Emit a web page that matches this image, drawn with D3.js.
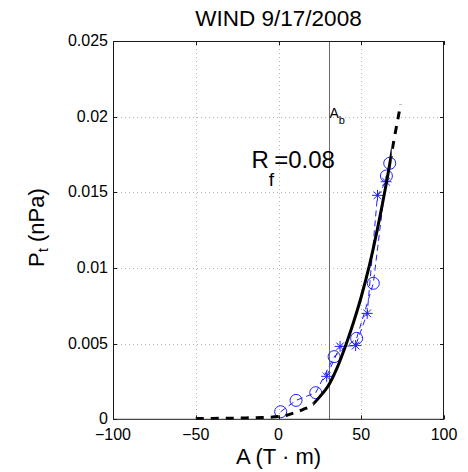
<!DOCTYPE html>
<html><head><meta charset="utf-8">
<script src="https://cdn.jsdelivr.net/npm/d3@7"></script>
<style>
body{margin:0;background:#fff}
svg{display:block}
text{font-family:"Liberation Sans",Arial,Helvetica,sans-serif;fill:#000}
</style>
</head><body>
<svg id="c" width="468" height="472"></svg>
<script>
// ---- data ----
const xTicks = [-100, -50, 0, 50, 100];
const xTickLabels = ["\u2212100", "\u221250", "0", "50", "100"];
const yTicks = [0, 0.005, 0.01, 0.015, 0.02, 0.025];
const yTickLabels = ["0", "0.005", "0.01", "0.015", "0.02", "0.025"];

// fitted model curve (black)
const fitA = [-50, -40, -30, -20, -10, 0, 5, 10, 15, 20, 25, 30, 35, 40, 45, 50, 55, 60, 65, 70, 73.8];
const fitP = [0.00005, 0.00006, 0.00007, 0.00009, 0.00012, 0.00018, 0.00027, 0.00045, 0.00066, 0.00092, 0.0015, 0.0022, 0.0033, 0.0047, 0.0063, 0.0081, 0.0102, 0.0127, 0.0155, 0.0186, 0.0208];
const solidRange = [21, 68.4];

// observed points: circles
const circA = [1.3, 10.6, 22.5, 33.6, 47.2, 57.3, 65.2, 67.2];
const circP = [0.0005, 0.00125, 0.00176, 0.00414, 0.00535, 0.00899, 0.01608, 0.01692];
// observed points: asterisks
const starA = [29.1, 37.2, 46.6, 53.6, 59.8, 65.0];
const starP = [0.00284, 0.00482, 0.00487, 0.0070, 0.0148, 0.0157];

const abLine = 30.5;
const titleText = "WIND 9/17/2008";
const rfValue = "0.08";

// ---- layout ----
const svg = d3.select("#c");
const L = 113, R = 444, T = 41, B = 419.3;
const x = d3.scaleLinear().domain([-100, 100]).range([L, R]);
const y = d3.scaleLinear().domain([0, 0.025]).range([B, T]);

svg.append("rect").attr("x", 0).attr("y", 0).attr("width", 468).attr("height", 472).attr("fill", "#fff");

// clip paths
const defs = svg.append("defs");
defs.append("clipPath").attr("id", "plot").append("rect")
  .attr("x", L).attr("y", T).attr("width", R - L).attr("height", B - T);
defs.append("clipPath").attr("id", "solid").append("rect")
  .attr("x", x(solidRange[0])).attr("y", 0).attr("width", x(solidRange[1]) - x(solidRange[0])).attr("height", 472);
const outside = defs.append("clipPath").attr("id", "dashed");
outside.append("rect").attr("x", 0).attr("y", 0).attr("width", x(solidRange[0])).attr("height", 472);
outside.append("rect").attr("x", x(solidRange[1])).attr("y", 0).attr("width", 468 - x(solidRange[1])).attr("height", 472);

// grid (dotted)
const grid = svg.append("g");
xTicks.slice(1, -1).forEach(v => {
  grid.append("line").attr("x1", Math.round(x(v)) + 0.5).attr("x2", Math.round(x(v)) + 0.5)
    .attr("y1", T).attr("y2", B).attr("stroke", "#b5b5b5").attr("stroke-width", 1).attr("stroke-dasharray", "1,3");
});
yTicks.slice(1, -1).forEach(v => {
  grid.append("line").attr("y1", Math.round(y(v)) + 0.5).attr("y2", Math.round(y(v)) + 0.5)
    .attr("x1", L).attr("x2", R).attr("stroke", "#b5b5b5").attr("stroke-width", 1).attr("stroke-dasharray", "1,3");
});

// A_b vertical line
svg.append("line").attr("x1", Math.round(x(abLine)) + 0.5).attr("x2", Math.round(x(abLine)) + 0.5)
  .attr("y1", T).attr("y2", B).attr("stroke", "#6a6a6a").attr("stroke-width", 1);

// blue observed series
const circData = circA.map((a, i) => [a, circP[i]]);
const starData = starA.map((a, i) => [a, starP[i]]);
const lineGen = d3.line().x(d => x(d[0])).y(d => y(d[1]));
const blue = "#2020ff";
const pg = svg.append("g").attr("clip-path", "url(#plot)");
pg.append("path").attr("d", lineGen(circData)).attr("fill", "none").attr("stroke", blue)
  .attr("stroke-width", 1).attr("stroke-dasharray", "6,4");
pg.append("path").attr("d", lineGen(starData)).attr("fill", "none").attr("stroke", blue)
  .attr("stroke-width", 1).attr("stroke-dasharray", "6,4");
pg.selectAll(".circ").data(circData).enter().append("circle")
  .attr("cx", d => x(d[0])).attr("cy", d => y(d[1])).attr("r", 6)
  .attr("fill", "none").attr("stroke", blue).attr("stroke-width", 1);
const s = 5.5, sd = s * 0.7;
const starPath = `M${-s},0H${s}M0,${-s}V${s}M${-sd},${-sd}L${sd},${sd}M${-sd},${sd}L${sd},${-sd}`;
pg.selectAll(".star").data(starData).enter().append("path")
  .attr("transform", d => `translate(${x(d[0])},${y(d[1])})`)
  .attr("d", starPath).attr("fill", "none").attr("stroke", blue).attr("stroke-width", 1);

// black fit curve
const fitData = fitA.map((a, i) => [a, fitP[i]]);
const curveGen = d3.line().x(d => x(d[0])).y(d => y(d[1])).curve(d3.curveMonotoneX);
svg.append("path").attr("d", curveGen(fitData)).attr("clip-path", "url(#dashed)")
  .attr("fill", "none").attr("stroke", "#000").attr("stroke-width", 3).attr("stroke-dasharray", "8,7");
svg.append("path").attr("d", curveGen(fitData)).attr("clip-path", "url(#solid)")
  .attr("fill", "none").attr("stroke", "#000").attr("stroke-width", 3);

// axes box
svg.append("rect").attr("x", L + 0.5).attr("y", T + 0.5).attr("width", R - L - 1).attr("height", B - T - 0.5)
  .attr("fill", "none").attr("stroke", "#1a1a1a").attr("stroke-width", 1);

// ticks inward (all four sides)
const tl = 4;
const tg = svg.append("g").attr("stroke", "#1a1a1a").attr("stroke-width", 1);
xTicks.forEach(v => {
  const px = Math.round(x(v)) + 0.5;
  tg.append("line").attr("x1", px).attr("x2", px).attr("y1", B).attr("y2", B - tl);
  tg.append("line").attr("x1", px).attr("x2", px).attr("y1", T).attr("y2", T + tl);
});
yTicks.forEach(v => {
  const py = Math.round(y(v)) + 0.5;
  tg.append("line").attr("y1", py).attr("y2", py).attr("x1", L).attr("x2", L + tl);
  tg.append("line").attr("y1", py).attr("y2", py).attr("x1", R).attr("x2", R - tl);
});

// tick labels
xTicks.forEach((v, i) => {
  svg.append("text").attr("x", x(v)).attr("y", 440).attr("text-anchor", "middle")
    .attr("font-size", 16).text(xTickLabels[i]);
});
yTicks.forEach((v, i) => {
  svg.append("text").attr("x", 108).attr("y", y(v) + 5).attr("text-anchor", "end")
    .attr("font-size", 16).text(yTickLabels[i]);
});

// title
svg.append("text").attr("x", (L + R) / 2).attr("y", 26).attr("text-anchor", "middle")
  .attr("font-size", 22.5).text(titleText);

// x label
svg.append("text").attr("x", (L + R) / 2).attr("y", 463.5).attr("text-anchor", "middle")
  .attr("font-size", 22).text("A (T \u00B7 m)");

// y label
const yl = svg.append("text").attr("transform", "translate(44.3,267) rotate(-90)")
  .attr("text-anchor", "start").attr("font-size", 22);
yl.append("tspan").text("P");
yl.append("tspan").attr("font-size", 15).attr("dy", 4).text("t");
yl.append("tspan").attr("dy", -4).text(" (nPa)");

// A_b label
const ab = svg.append("text").attr("x", x(abLine) + 0.5).attr("y", 118.3).attr("font-size", 14);
ab.append("tspan").text("A");
ab.append("tspan").attr("font-size", 11).attr("dy", 6).text("b");

// R_f label
const rf = svg.append("text").attr("x", 251.5).attr("y", 168.3).attr("font-size", 24);
rf.append("tspan").text("R");
rf.append("tspan").attr("font-size", 19).attr("dy", 18).text("f");
rf.append("tspan").attr("dy", -18).text("=" + rfValue);
</script>
</body></html>
